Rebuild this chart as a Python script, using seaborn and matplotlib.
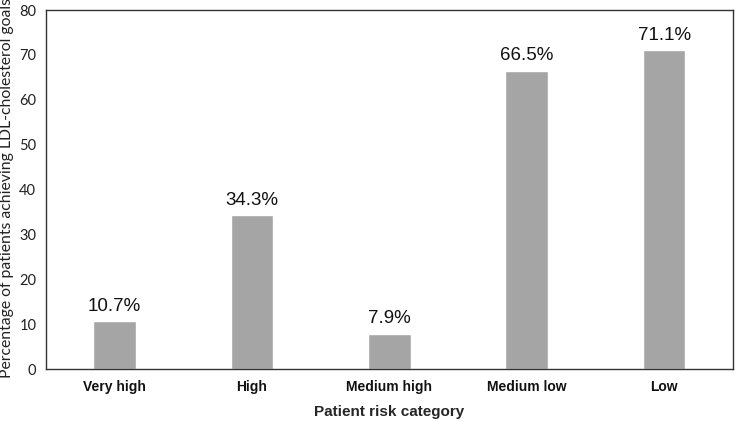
import matplotlib
matplotlib.use("Agg")
import matplotlib.pyplot as plt
import seaborn as sns
import pandas as pd

categories = ["Very high", "High", "Medium high", "Medium low", "Low"]
values = [10.7, 34.3, 7.9, 66.5, 71.1]
labels = ["10.7%", "34.3%", "7.9%", "66.5%", "71.1%"]
yticks = [0, 10, 20, 30, 40, 50, 60, 70, 80]

sns.set_theme(style="white")
plt.rcParams['font.family'] = ['Lato', 'DejaVu Sans']

df = pd.DataFrame({"cat": categories, "val": values})

fig = plt.figure(figsize=(7.35, 4.21), dpi=100)
ax = fig.add_axes([0.0626, 0.1235, 0.9344, 0.8525])
sns.barplot(data=df, x="cat", y="val", color="#a5a5a5", saturation=1, width=0.31, ax=ax)

for p, lab in zip(ax.patches, labels):
    ax.text(p.get_x() + p.get_width() / 2, p.get_height() + 2.3, lab,
            ha="center", va="baseline", fontsize=13.5, family="Liberation Sans", color="#111111")

ax.set_ylim(0, 80)
ax.set_yticks(yticks)
ax.set_yticklabels([str(t) for t in yticks], fontsize=10.5, color="#222222")
ax.set_xticks(range(len(categories)))
ax.set_xticklabels(categories, fontsize=10, fontweight="bold", family="Liberation Sans", color="#111111")
ax.tick_params(axis="x", length=0, pad=8)
ax.tick_params(axis="y", length=0, pad=7)
ax.set_xlabel("Patient risk category", fontsize=11, fontweight="bold", family="Liberation Sans", labelpad=8)
ax.set_ylabel("Percentage of patients achieving LDL-cholesterol goals", fontsize=11.3, color="#222222")
ax.yaxis.set_label_coords(-0.046, 0.503)
for s in ax.spines.values():
    s.set_visible(True)
    s.set_color("#333333")
    s.set_linewidth(1)

fig.savefig("out.png", dpi=100)
